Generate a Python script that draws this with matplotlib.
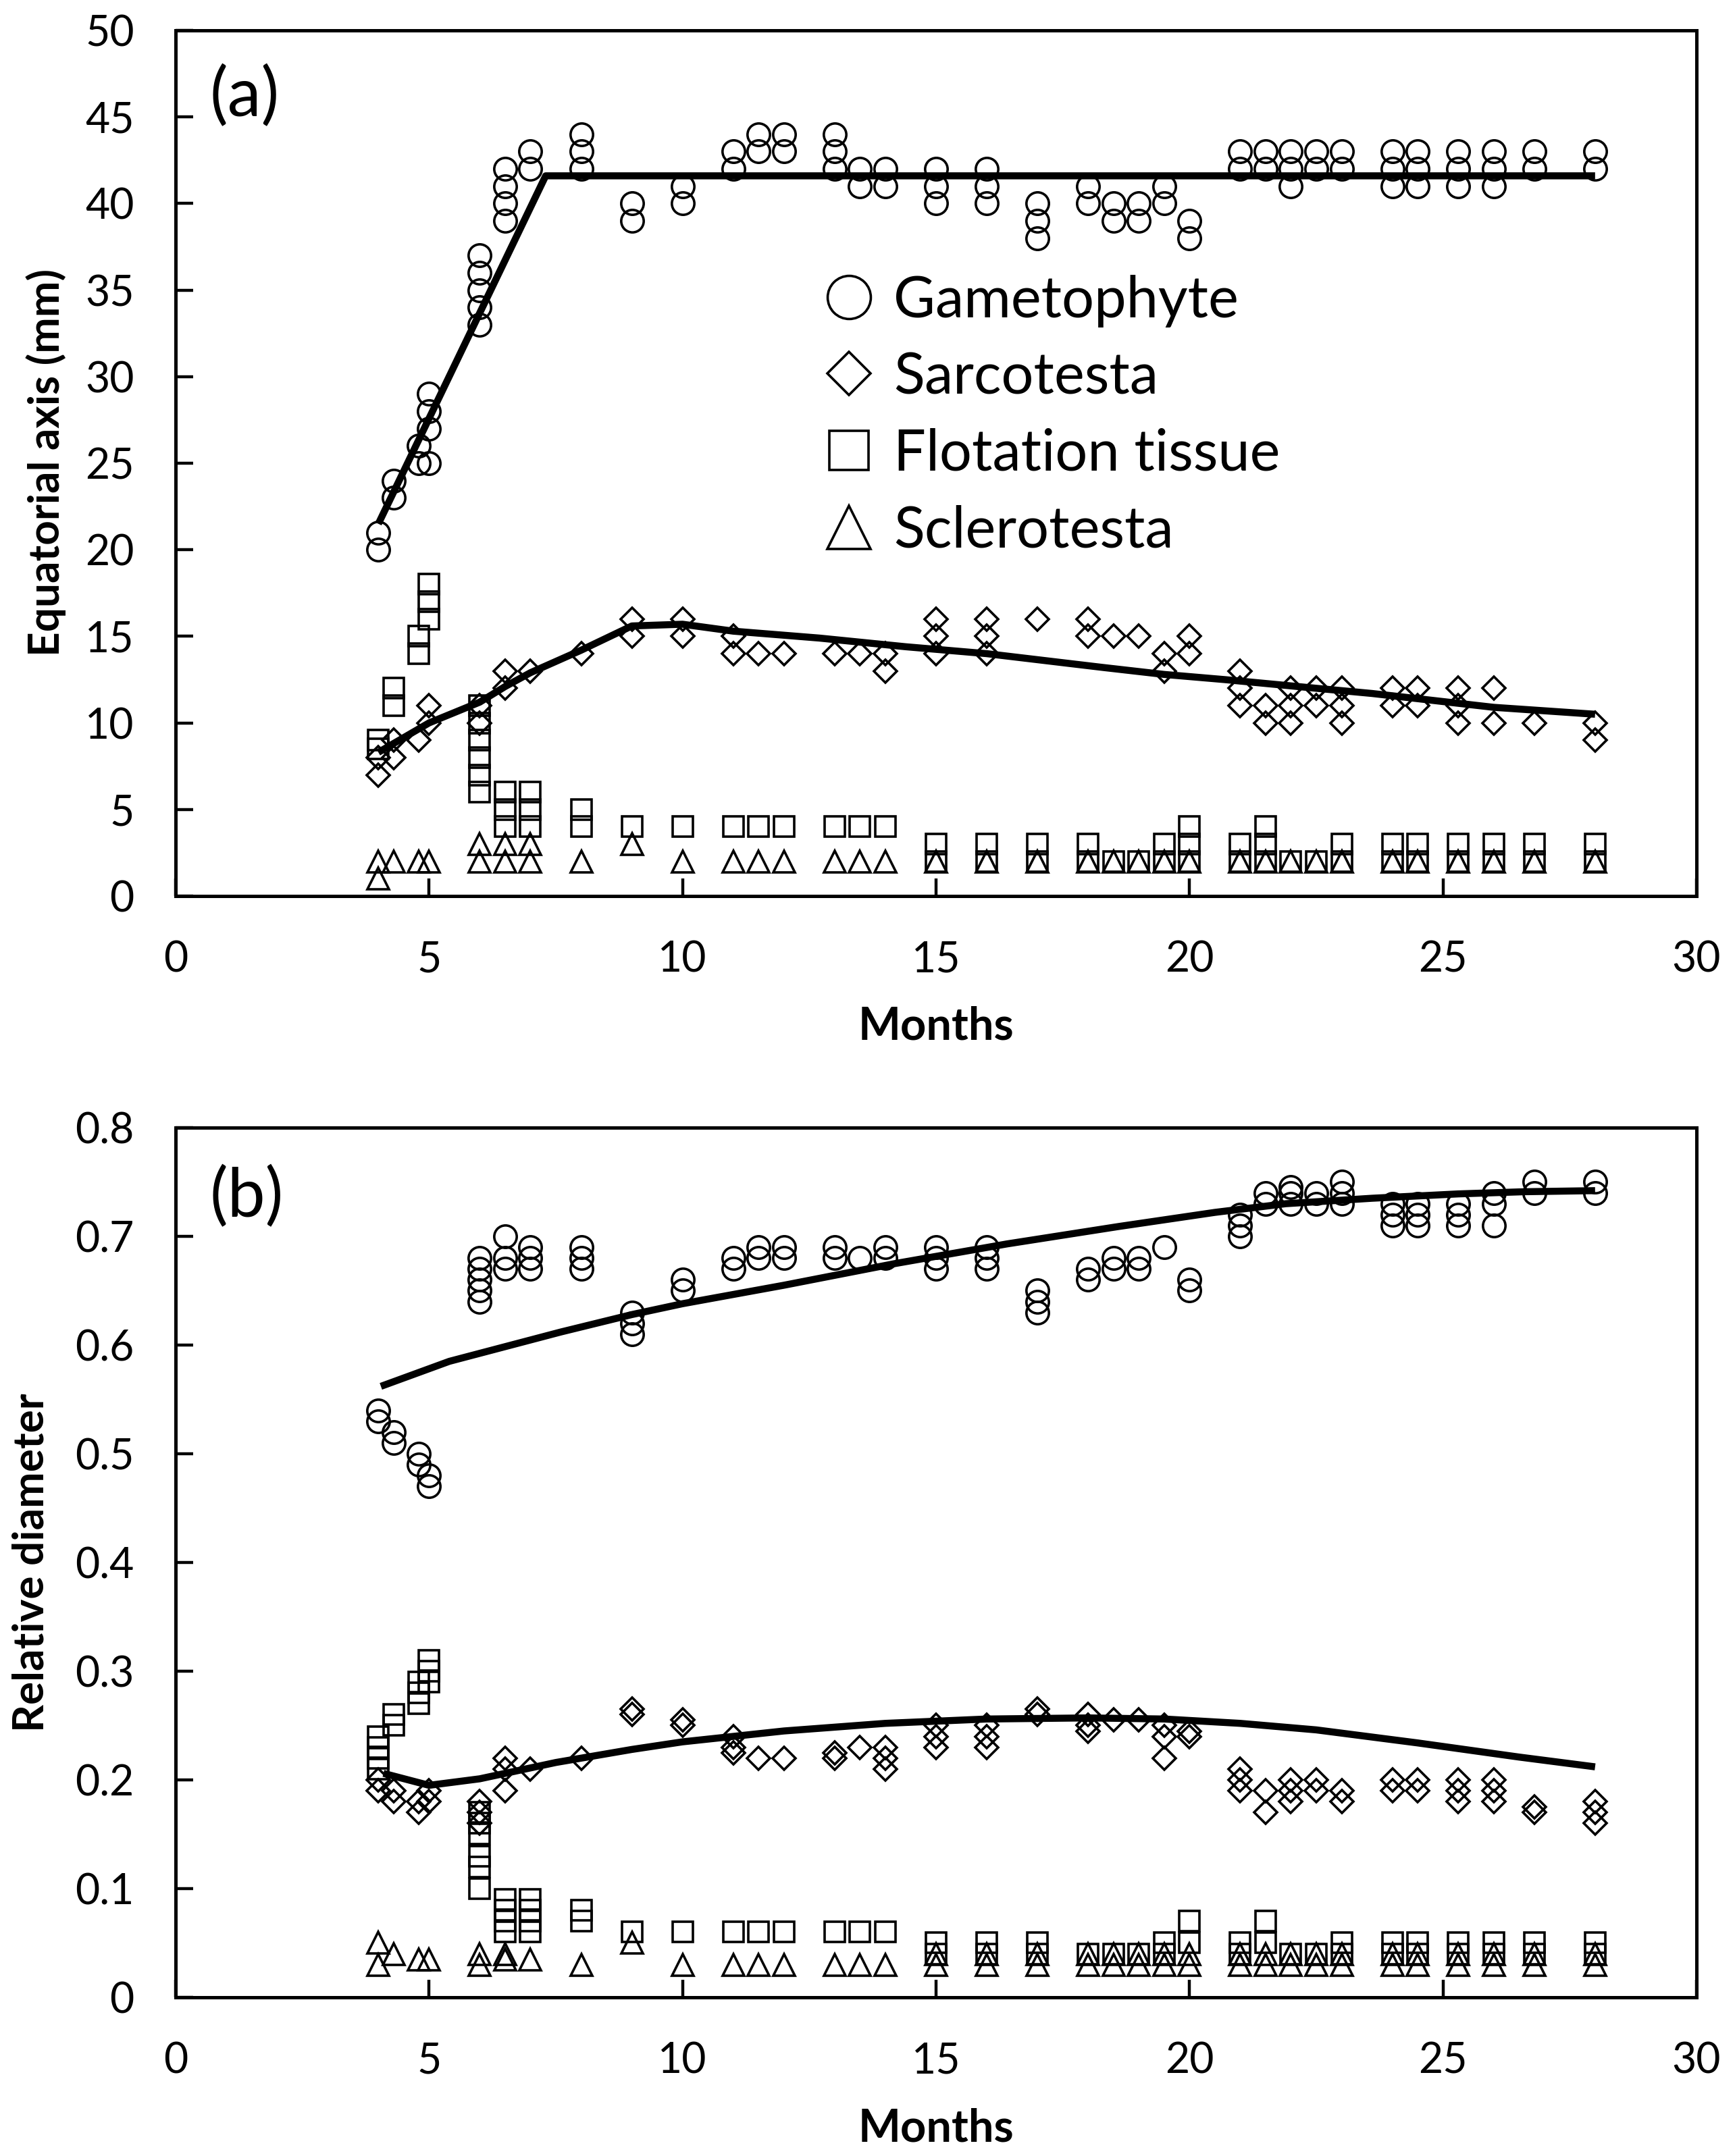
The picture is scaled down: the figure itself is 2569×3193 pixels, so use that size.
import matplotlib
matplotlib.use("Agg")
import matplotlib.pyplot as plt
from matplotlib.lines import Line2D

plt.rcParams['font.family'] = ['Lato', 'DejaVu Sans']

# sampling times (months)
months = [4, 4.3, 4.8, 5, 6, 6.5, 7, 8, 9, 10, 11, 11.5, 12, 13, 13.5, 14,
          15, 16, 17, 18, 18.5, 19, 19.5, 20, 21, 21.5, 22, 22.5, 23,
          24, 24.5, 25.3, 26, 26.8, 28]

# (a) equatorial axis, mm
gam_a = [[20, 21], [23, 24], [25, 26], [25, 27, 28, 29], [33, 34, 35, 36, 37],
         [39, 40, 41, 42], [42, 43], [42, 43, 44], [39, 40], [40, 41], [42, 43],
         [43, 44], [43, 44], [42, 43, 44], [41, 42], [41, 42], [40, 41, 42],
         [40, 41, 42], [38, 39, 40], [40, 41], [39, 40], [39, 40], [40, 41],
         [38, 39], [42, 43], [42, 43], [41, 42, 43], [42, 43], [42, 43],
         [41, 42, 43], [41, 42, 43], [41, 42, 43], [41, 42, 43], [42, 43], [42, 43]]
sar_a = [[7, 8], [8, 9], [9], [10, 11], [10, 11], [12, 13], [13], [14], [15, 16],
         [15, 16], [14, 15], [14], [14], [14], [14], [13, 14], [14, 15, 16],
         [14, 15, 16], [16], [15, 16], [15], [15], [13, 14], [14, 15], [11, 12, 13],
         [10, 11], [10, 11, 12], [11, 12], [10, 11, 12], [11, 12], [11, 12],
         [10, 11, 12], [10, 12], [10], [9, 10]]
flo_a = [[8.5, 9], [11, 12], [14, 15], [16, 17, 18], [6, 7, 8, 9, 10, 11],
         [4, 5, 6], [4, 5, 6], [4, 5], [4], [4], [4], [4], [4], [4], [4], [4],
         [2, 3], [2, 3], [2, 3], [2, 3], [2], [2], [2, 3], [2, 3, 4], [2, 3],
         [2, 3, 4], [2], [2], [2, 3], [2, 3], [2, 3], [2, 3], [2, 3], [2, 3], [2, 3]]
scl_a = [[1, 2], [2], [2], [2], [2, 3], [2, 3], [2, 3], [2], [3], [2], [2], [2],
         [2], [2], [2], [2], [2], [2], [2], [2], [2], [2], [2], [2], [2], [2],
         [2], [2], [2], [2], [2], [2], [2], [2], [2]]

# (b) relative diameter
gam_b = [[0.53, 0.54], [0.51, 0.52], [0.49, 0.50], [0.47, 0.48],
         [0.64, 0.65, 0.66, 0.67, 0.68], [0.67, 0.68, 0.70], [0.67, 0.68, 0.69],
         [0.67, 0.68, 0.69], [0.61, 0.62, 0.63], [0.65, 0.66], [0.67, 0.68],
         [0.68, 0.69], [0.68, 0.69], [0.68, 0.69], [0.68], [0.68, 0.69],
         [0.67, 0.68, 0.69], [0.67, 0.68, 0.69], [0.63, 0.64, 0.65], [0.66, 0.67],
         [0.67, 0.68], [0.67, 0.68], [0.69], [0.65, 0.66], [0.70, 0.71, 0.72],
         [0.73, 0.74], [0.73, 0.74, 0.745], [0.73, 0.74], [0.73, 0.74, 0.75],
         [0.71, 0.72, 0.73], [0.71, 0.72, 0.73], [0.71, 0.72, 0.73],
         [0.71, 0.73, 0.74], [0.74, 0.75], [0.74, 0.75]]
sar_b = [[0.19, 0.20], [0.18, 0.19], [0.17, 0.18], [0.18, 0.19], [0.16, 0.17, 0.18],
         [0.19, 0.21, 0.22], [0.21], [0.22], [0.26, 0.265], [0.25, 0.255],
         [0.225, 0.23, 0.24], [0.22], [0.22], [0.22, 0.225], [0.23], [0.21, 0.22, 0.23],
         [0.23, 0.24, 0.25], [0.23, 0.24, 0.25], [0.26, 0.265], [0.245, 0.25, 0.26],
         [0.255], [0.255], [0.22, 0.24, 0.25], [0.24, 0.245], [0.19, 0.20, 0.21],
         [0.17, 0.19], [0.18, 0.19, 0.20], [0.19, 0.20], [0.18, 0.19], [0.19, 0.20],
         [0.19, 0.20], [0.18, 0.19, 0.20], [0.18, 0.19, 0.20], [0.17, 0.175],
         [0.16, 0.17, 0.18]]
flo_b = [[0.21, 0.22, 0.23, 0.24], [0.25, 0.26], [0.27, 0.28, 0.29], [0.29, 0.30, 0.31],
         [0.10, 0.12, 0.13, 0.15, 0.16, 0.17], [0.06, 0.07, 0.08, 0.09],
         [0.06, 0.07, 0.08, 0.09], [0.07, 0.08], [0.06], [0.06], [0.06], [0.06],
         [0.06], [0.06], [0.06], [0.06], [0.04, 0.05], [0.04, 0.05], [0.04, 0.05],
         [0.04], [0.04], [0.04], [0.04, 0.05], [0.05, 0.07], [0.04, 0.05],
         [0.05, 0.07], [0.04], [0.04], [0.04, 0.05], [0.04, 0.05], [0.04, 0.05],
         [0.04, 0.05], [0.04, 0.05], [0.04, 0.05], [0.04, 0.05]]
scl_b = [[0.03, 0.05], [0.04], [0.035], [0.035], [0.03, 0.04], [0.035, 0.04], [0.035],
         [0.03], [0.05], [0.03], [0.03], [0.03], [0.03], [0.03], [0.03], [0.03],
         [0.03, 0.04], [0.03, 0.04], [0.03, 0.04], [0.03, 0.04], [0.03, 0.04],
         [0.03, 0.04], [0.03, 0.04], [0.03, 0.04], [0.03, 0.04], [0.03, 0.04],
         [0.03, 0.04], [0.03, 0.04], [0.03, 0.04], [0.03, 0.04], [0.03, 0.04],
         [0.03, 0.04], [0.03, 0.04], [0.03, 0.04], [0.03, 0.04]]

# fitted trend lines
fit_a_gam_x = [4, 7.3, 28]
fit_a_gam_y = [21.5, 41.6, 41.6]
fit_a_sar_x = [4, 5, 6, 6.5, 7, 8, 9, 10, 11, 12.7, 14.4, 16, 18.3, 19.5, 20.7,
               22.5, 23.6, 24.8, 26, 28]
fit_a_sar_y = [8.3, 10.0, 11.2, 12.1, 12.9, 14.2, 15.6, 15.7, 15.3, 14.9, 14.4,
               14.0, 13.2, 12.8, 12.5, 12.0, 11.7, 11.3, 10.9, 10.5]
fit_b_gam_x = [4.05, 5.4, 7.6, 9, 10, 12, 14.2, 16.4, 18.6, 20.5, 21.9, 23.6,
               25.3, 26.6, 28]
fit_b_gam_y = [0.562, 0.585, 0.612, 0.628, 0.638, 0.655, 0.675, 0.693, 0.709,
               0.722, 0.730, 0.735, 0.739, 0.741, 0.742]
fit_b_sar_x = [4.1, 5.0, 6.0, 7.5, 9, 10, 12, 14, 16, 18, 19.5, 21, 22.5, 24.5,
               26.5, 28]
fit_b_sar_y = [0.206, 0.195, 0.201, 0.216, 0.228, 0.235, 0.245, 0.252, 0.256,
               0.257, 0.256, 0.252, 0.246, 0.234, 0.221, 0.212]

names = ['Gametophyte', 'Sarcotesta', 'Flotation tissue', 'Sclerotesta']
markers = ['o', 'D', 's', '^']
msizes = [24, 17, 22, 23]
MEW = 2.6


def flatten(vals):
    xs, ys = [], []
    for m, v in zip(months, vals):
        xs += [m] * len(v)
        ys += v
    return xs, ys


fig = plt.figure(figsize=(25.69, 31.93), dpi=100)
ax_a = fig.add_axes([0.1012, 0.5844, 0.8766, 0.4015])
ax_b = fig.add_axes([0.1012, 0.0736, 0.8766, 0.4034])

panels = [
    (ax_a, [gam_a, sar_a, flo_a, scl_a], (0, 50), list(range(0, 51, 5)),
     [(fit_a_gam_x, fit_a_gam_y), (fit_a_sar_x, fit_a_sar_y)], '(a)', 0.924),
    (ax_b, [gam_b, sar_b, flo_b, scl_b], (0, 0.8), [i / 10 for i in range(9)],
     [(fit_b_gam_x, fit_b_gam_y), (fit_b_sar_x, fit_b_sar_y)], '(b)', 0.920),
]

for ax, series, ylim, yticks, fits, tag, tag_y in panels:
    for vals, mk, ms in zip(series, markers, msizes):
        xs, ys = flatten(vals)
        ax.plot(xs, ys, ls='none', marker=mk, ms=ms, mfc='none', mec='black', mew=MEW)
    for fx, fy in fits:
        ax.plot(fx, fy, color='black', lw=7.5, solid_capstyle='butt')
    ax.set_xlim(0, 30)
    ax.set_ylim(*ylim)
    ax.set_xticks(range(0, 31, 5))
    ax.set_yticks(yticks)
    ax.set_yticklabels(['%g' % t for t in yticks])
    ax.tick_params(direction='in', length=19, width=3.2, labelsize=45)
    ax.tick_params(axis='x', pad=47)
    ax.tick_params(axis='y', pad=44)
    for sp in ax.spines.values():
        sp.set_linewidth(3.6)
    ax.text(0.0226, tag_y, tag, transform=ax.transAxes, fontsize=72,
            ha='left', va='center')
    ax.text(0.5, -0.151, 'Months', transform=ax.transAxes, fontsize=48,
            fontweight='bold', ha='center', va='center')

fig.text(0.0265, 0.7854, 'Equatorial axis (mm)', rotation=90, fontsize=46,
         fontweight='bold', ha='center', va='center')
fig.text(0.0179, 0.2753, 'Relative diameter', rotation=90, fontsize=46,
         fontweight='bold', ha='center', va='center')

handles = [Line2D([], [], ls='none', marker=mk, ms=s, mfc='none', mec='black', mew=MEW)
           for mk, s in zip(markers, [46, 33, 42, 46])]
ax_a.legend(handles, names, loc='upper left', bbox_to_anchor=(0.4276, 0.718),
            frameon=False, fontsize=61, handlelength=0.8, handletextpad=0.38,
            labelspacing=0.42, borderpad=0, borderaxespad=0)

fig.savefig('out.png', dpi=100)
